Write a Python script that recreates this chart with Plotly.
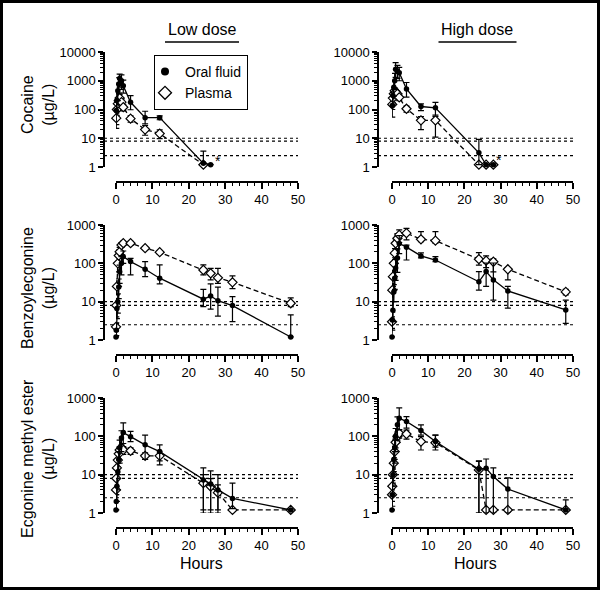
import math
import plotly.graph_objects as go

# ---------------- data ----------------
times = [0, 0.08, 0.25, 0.5, 0.75, 1, 1.5, 2, 4, 8, 12, 24, 26, 28, 32, 48]

# Cocaine, low dose
coc_low_oral    = [None, 92, 204, 452, 770, 1200, 1000, 670, 178, 52, 52, 1.34, 1.2, None, None, None]
coc_low_oral_up = [0, 60, 150, 300, 500, 500, 600, 380, 126, 35, 8, 2.2, 0, 0, 0, 0]
coc_low_oral_dn = [0, 70, 120, 250, 400, 600, 500, 300, 80, 20, 8, 0, 0, 0, 0, 0]
coc_low_plasma    = [None, 50, 100, 160, 200, 250, 180, 120, 48, 20, 14.5, 1.2, None, None, None, None]
coc_low_plasma_up = [0, 20, 40, 60, 60, 80, 50, 30, 12, 8, 5, 0, 0, 0, 0, 0]
coc_low_plasma_dn = [0, 20, 40, 60, 60, 80, 50, 30, 12, 7.3, 4.8, 0, 0, 0, 0, 0]

# Cocaine, high dose
coc_high_oral    = [None, 137, 304, 590, 1000, 2500, 2200, 1900, 520, 127, 114, 3.1, 1.2, 1.2, None, None]
coc_high_oral_up = [0, 100, 200, 400, 800, 1800, 1200, 1000, 350, 30, 64, 6, 0, 0, 0, 0]
coc_high_oral_dn = [0, 83, 150, 300, 500, 1200, 1000, 900, 250, 35, 50, 1.9, 0, 0, 0, 0]
coc_high_plasma    = [None, 150, 250, 350, 450, 400, 350, 265, 106, 42, 42, 1.2, 1.2, 1.2, None, None]
coc_high_plasma_up = [0, 50, 80, 100, 120, 100, 80, 60, 25, 15, 15, 0, 0, 0, 0, 0]
coc_high_plasma_dn = [0, 50, 80, 100, 120, 100, 80, 60, 25, 22, 31, 0, 0, 0, 0, 0]

# Benzoylecgonine, low dose
bze_low_oral    = [1.2, 1.8, 6.6, 10, 24, 60, 100, 150, 111, 70, 41, 11.6, 14, 10.6, 7.9, 1.2]
bze_low_oral_up = [0, 1, 4, 6, 15, 30, 50, 60, 24, 41, 50, 9.4, 15, 13.4, 5.6, 3.3]
bze_low_oral_dn = [0, 0.5, 3, 5, 12, 30, 50, 50, 61, 25, 12, 4.2, 7.6, 6.4, 4.9, 0]
bze_low_plasma    = [2.2, 8, 25, 100, 160, 200, 300, 335, 335, 248, 195, 67, 55, 42, 32, 9.1]
bze_low_plasma_up = [0.5, 4, 10, 40, 60, 60, 40, 40, 40, 20, 20, 24, 19, 32, 15, 3.4]
bze_low_plasma_dn = [0.5, 4, 10, 40, 60, 60, 40, 40, 40, 20, 20, 17, 18, 12, 10, 1.7]

# Benzoylecgonine, high dose
bze_high_oral    = [1.2, 3.3, 6, 18, 41, 76, 138, 330, 264, 156, 122, 33, 61, 37, 19, 6.1]
bze_high_oral_up = [0, 2, 4, 10, 25, 50, 100, 200, 36, 31, 28, 28, 41, 65, 6, 4.9]
bze_high_oral_dn = [0, 1.5, 3, 8, 20, 40, 80, 150, 142, 18, 12, 13, 36, 26, 12.2, 3.4]
bze_high_plasma    = [3, 20, 45, 100, 184, 334, 450, 550, 611, 424, 390, 128, 117, 110, 70, 18]
bze_high_plasma_up = [1, 10, 20, 40, 60, 100, 150, 200, 209, 246, 280, 62, 40, 20, 6, 3]
bze_high_plasma_dn = [1, 10, 20, 40, 60, 100, 150, 200, 200, 54, 56, 38, 40, 50, 33, 3]

# Ecgonine methyl ester, low dose
eme_low_oral    = [1.2, 2, 5, 12, 25, 50, 90, 125, 98, 60, 40, 7.3, 5.7, 4, 2.4, 1.2]
eme_low_oral_up = [0, 1, 3, 8, 15, 30, 50, 99, 36, 48, 20, 7.7, 6.8, 6, 3.6, 0]
eme_low_oral_dn = [0, 0.8, 3, 8, 15, 30, 50, 60, 25, 35, 22, 6.3, 4.7, 3, 1.1, 0]
eme_low_plasma    = [4, 8, 15, 24, 35, 44, 50, 44, 42, 31, 31, 6, 4.9, 3.4, 1.2, 1.2]
eme_low_plasma_up = [1, 3, 5, 8, 10, 10, 10, 10, 8, 6, 8, 4, 3, 2, 0, 0]
eme_low_plasma_dn = [1, 3, 5, 8, 10, 10, 10, 10, 8, 6, 8, 4.8, 3.7, 2.2, 0, 0]

# Ecgonine methyl ester, high dose
eme_high_oral    = [1.2, 3, 10, 25, 50, 100, 200, 297, 243, 141, 73, 13.8, 14.7, 8.9, 4.2, 1.2]
eme_high_oral_up = [0, 2, 5, 15, 30, 60, 120, 253, 82, 59, 35, 9.2, 10.9, 6.1, 4, 1]
eme_high_oral_dn = [0, 1.5, 5, 15, 30, 60, 120, 150, 80, 33, 21, 12.8, 13.7, 7.9, 3.2, 0]
eme_high_plasma    = [3, 5, 10, 20, 40, 70, 100, 120, 115, 73, 68, 13.3, 1.2, 1.2, 1.2, 1.2]
eme_high_plasma_up = [1, 2, 4, 8, 15, 20, 30, 30, 30, 25, 40, 9, 0, 0, 0, 0]
eme_high_plasma_dn = [1, 2, 4, 8, 15, 20, 30, 30, 30, 29, 24, 12.3, 0, 0, 0, 0]

cutoffs = [10, 8, 2.5]
x_tick_vals = [0, 10, 20, 30, 40, 50]
x_tick_text = ["0", "10", "20", "30", "40", "50"]
y_tick_vals_coc = [1, 10, 100, 1000, 10000]
y_tick_text_coc = ["1", "10", "100", "1000", "10000"]
y_tick_vals_met = [1, 10, 100, 1000]
y_tick_text_met = ["1", "10", "100", "1000"]
col_titles = ["Low dose", "High dose"]
row_titles = ["Cocaine<br>(µg/L)", "Benzoylecgonine<br>(µg/L)", "Ecgonine methyl ester<br>(µg/L)"]
series_names = ["Oral fluid", "Plasma"]
x_title = "Hours"
asterisk_t = [28.0, 29.5]
asterisk_val = [1.6, 1.7]

# ---------------- geometry (pixels) ----------------
W, H = 600, 590
FONT = "Liberation Sans, Arial, Helvetica, sans-serif"
col_geom = [(104, 116, 298), (378, 392, 573)]      # y-axis line, x=0, x=50
row_geom = [(52, 167, 182), (225, 340, 355), (398, 513, 528)]  # top, bottom, x-axis line
title_y = [105, 288, 459]

panels = [
    (0, 0, coc_low_oral, coc_low_oral_up, coc_low_oral_dn, coc_low_plasma, coc_low_plasma_up, coc_low_plasma_dn),
    (0, 1, coc_high_oral, coc_high_oral_up, coc_high_oral_dn, coc_high_plasma, coc_high_plasma_up, coc_high_plasma_dn),
    (1, 0, bze_low_oral, bze_low_oral_up, bze_low_oral_dn, bze_low_plasma, bze_low_plasma_up, bze_low_plasma_dn),
    (1, 1, bze_high_oral, bze_high_oral_up, bze_high_oral_dn, bze_high_plasma, bze_high_plasma_up, bze_high_plasma_dn),
    (2, 0, eme_low_oral, eme_low_oral_up, eme_low_oral_dn, eme_low_plasma, eme_low_plasma_up, eme_low_plasma_dn),
    (2, 1, eme_high_oral, eme_high_oral_up, eme_high_oral_dn, eme_high_plasma, eme_high_plasma_up, eme_high_plasma_dn),
]

fig = go.Figure()
layout = {}
shapes = []
annotations = []

def ax_name(letter, n):
    return letter if n == 1 else f"{letter}{n}"

def minor_vals(decades):
    return [m * 10 ** k for k in range(decades) for m in range(2, 10)]

for k, (r, c, of, ofu, ofd, pl, plu, pld) in enumerate(panels):
    n = k + 1
    xa, ya = ax_name("x", n), ax_name("y", n)
    top, bot, xline = row_geom[r]
    yax, x0, x50 = col_geom[c]
    decades = 4 if r == 0 else 3

    fig.add_trace(go.Scatter(
        x=times, y=pl, mode="lines+markers", showlegend=False, cliponaxis=False,
        line=dict(color="black", width=1.3, dash="5px,3px"),
        marker=dict(symbol="diamond", size=7, color="white", line=dict(color="black", width=1.2)),
        error_y=dict(type="data", array=plu, arrayminus=pld, color="black", thickness=1.2, width=3),
        xaxis=xa, yaxis=ya))
    fig.add_trace(go.Scatter(
        x=times, y=of, mode="lines+markers", showlegend=False, cliponaxis=False,
        line=dict(color="black", width=1.3),
        marker=dict(symbol="circle", size=5.5, color="black"),
        error_y=dict(type="data", array=ofu, arrayminus=ofd, color="black", thickness=1.2, width=3),
        xaxis=xa, yaxis=ya))

    layout["xaxis" + ("" if n == 1 else str(n))] = dict(
        domain=[x0 / W, x50 / W], range=[0, 50], anchor="free", position=1 - xline / H,
        showline=True, linecolor="black", linewidth=1.5, showgrid=False, zeroline=False,
        ticks="outside", ticklen=6, tickwidth=1.5, tickcolor="black",
        tickvals=x_tick_vals, ticktext=x_tick_text,
        tickfont=dict(family=FONT, size=13, color="black"),
        minor=dict(ticks="outside", ticklen=3, tickwidth=1, tickcolor="black", dtick=2, tick0=0),
        fixedrange=True)
    layout["yaxis" + ("" if n == 1 else str(n))] = dict(
        type="log", range=[0, decades], domain=[1 - bot / H, 1 - top / H],
        anchor="free", position=yax / W, side="left",
        showline=True, linecolor="black", linewidth=1.5, showgrid=False, zeroline=False,
        ticks="outside", ticklen=5, tickwidth=1.5, tickcolor="black",
        tickvals=y_tick_vals_coc if r == 0 else y_tick_vals_met,
        ticktext=y_tick_text_coc if r == 0 else y_tick_text_met,
        tickfont=dict(family=FONT, size=13, color="black"),
        minor=dict(ticks="outside", ticklen=3, tickwidth=1, tickcolor="black",
                   tickmode="array", tickvals=minor_vals(decades), showgrid=False),
        fixedrange=True)

    for cval in cutoffs:
        shapes.append(dict(type="line", xref="paper", yref=ya, x0=yax / W, x1=x50 / W, y0=cval, y1=cval,
                           line=dict(color="black", width=1.2, dash="dot"), layer="below"))

    if r == 0:
        annotations.append(dict(text="*", xref=xa, yref=ya, x=asterisk_t[c], y=math.log10(asterisk_val[c]),
                                xanchor="center", yanchor="middle",
                                showarrow=False, font=dict(family=FONT, size=14, color="black")))
    if r == 2:
        annotations.append(dict(text=x_title, xref="paper", yref="paper", x=(yax + x50) / 2 / W,
                                y=1 - 563 / H, xanchor="center", yanchor="middle", showarrow=False,
                                font=dict(family=FONT, size=16, color="black")))

# legend-only traces
fig.add_trace(go.Scatter(x=[None], y=[None], mode="markers", name=series_names[0],
                         marker=dict(symbol="circle", size=8, color="black")))
fig.add_trace(go.Scatter(x=[None], y=[None], mode="markers", name=series_names[1],
                         marker=dict(symbol="diamond", size=10, color="white", line=dict(color="black", width=1.3))))

# column headers with underline
for c, txt in enumerate(col_titles):
    cx = [202, 477.5][c]
    annotations.append(dict(text=txt, xref="paper", yref="paper", x=cx / W, y=1 - 30 / H,
                            xanchor="center", yanchor="middle",
                            showarrow=False, font=dict(family=FONT, size=16, color="black")))
    half = [37, 39][c]
    shapes.append(dict(type="line", xref="paper", yref="paper", x0=(cx - half) / W, x1=(cx + half) / W,
                       y0=1 - 42 / H, y1=1 - 42 / H, line=dict(color="black", width=1.5)))

# row titles
for r, txt in enumerate(row_titles):
    annotations.append(dict(text=txt, xref="paper", yref="paper", x=38 / W, y=1 - title_y[r] / H,
                            xanchor="center", yanchor="middle",
                            textangle=-90, showarrow=False, font=dict(family=FONT, size=16, color="black")))

# frame
shapes.append(dict(type="rect", xref="paper", yref="paper", x0=0, x1=1, y0=0, y1=1,
                   line=dict(color="black", width=6)))

fig.update_layout(
    width=W, height=H, margin=dict(l=0, r=0, t=0, b=0, autoexpand=False),
    paper_bgcolor="white", plot_bgcolor="rgba(0,0,0,0)",
    font=dict(family=FONT, size=13, color="black"),
    showlegend=True,
    legend=dict(x=154 / W, y=1 - 55 / H, xanchor="left", yanchor="top",
                bordercolor="black", borderwidth=1, bgcolor="white",
                font=dict(family=FONT, size=14, color="black"), itemwidth=30,
                indentation=-10, tracegroupgap=0),
    shapes=shapes, annotations=annotations,
    **layout,
)

fig.write_html("out.html", config={"displayModeBar": False},
               post_script="document.body.style.margin='0px';")
